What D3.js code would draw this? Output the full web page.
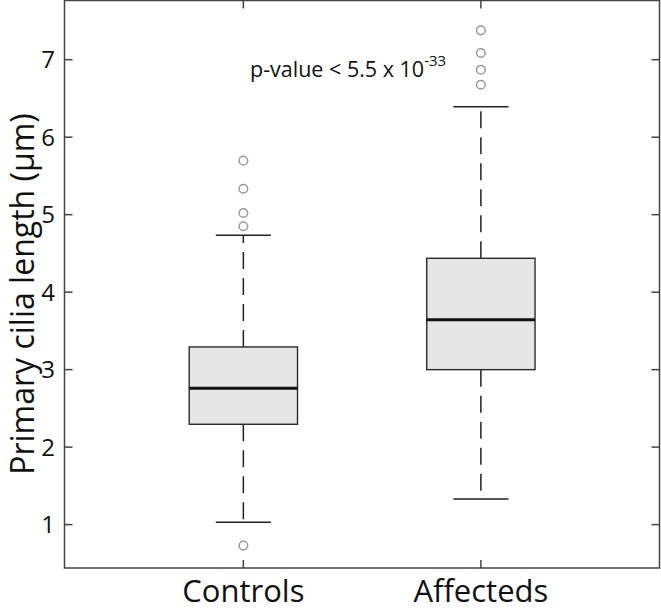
<!DOCTYPE html>
<html><head><meta charset="utf-8">
<script src="https://cdn.jsdelivr.net/npm/d3@7"></script>
<style>body{margin:0;background:#fff}svg{display:block}</style>
</head><body>
<script>
const categories = ["Controls", "Affecteds"];
const q1 = [2.295, 3.0];
const median = [2.76, 3.645];
const q3 = [3.293, 4.437];
const whiskerLow = [1.031, 1.332];
const whiskerHigh = [4.734, 6.394];
const outliers = [[5.697, 5.335, 5.022, 4.85, 0.729], [7.379, 7.086, 6.871, 6.677]];
const yTicks = [1, 2, 3, 4, 5, 6, 7];
const yLabel = "Primary cilia length (μm)";

(function () {
const W = 661, H = 613;
const pLeft = 64.5, pRight = 659.5, pTop = 0.5, pBottom = 568;
const font = "'Open Sans', 'Noto Sans', sans-serif";

const svg = d3.select("body").append("svg").attr("width", W).attr("height", H);
const x = d3.scaleLinear().domain([0.247, 2.752]).range([pLeft, pRight]);
const y = d3.scaleLinear().domain([0.44, 7.764]).range([pBottom, pTop]);
const boxHalf = 0.228, capHalf = 0.116;

const g = svg.append("g");
categories.forEach((c, i) => {
  const cx = x(i + 1);
  g.append("line").attr("x1", cx).attr("x2", cx).attr("y1", y(q3[i])).attr("y2", y(whiskerHigh[i]))
    .attr("stroke", "#222").attr("stroke-width", 1.5).attr("stroke-dasharray", "17,9");
  g.append("line").attr("x1", cx).attr("x2", cx).attr("y1", y(q1[i])).attr("y2", y(whiskerLow[i]))
    .attr("stroke", "#222").attr("stroke-width", 1.5).attr("stroke-dasharray", "17,9");
  [whiskerHigh[i], whiskerLow[i]].forEach(v => {
    g.append("line").attr("x1", x(i + 1 - capHalf)).attr("x2", x(i + 1 + capHalf))
      .attr("y1", y(v)).attr("y2", y(v)).attr("stroke", "#222").attr("stroke-width", 1.5);
  });
  g.append("rect").attr("x", x(i + 1 - boxHalf)).attr("width", x(i + 1 + boxHalf) - x(i + 1 - boxHalf))
    .attr("y", y(q3[i])).attr("height", y(q1[i]) - y(q3[i]))
    .attr("fill", "#e6e6e6").attr("stroke", "#2a2a2a").attr("stroke-width", 1.4);
  g.append("line").attr("x1", x(i + 1 - boxHalf)).attr("x2", x(i + 1 + boxHalf))
    .attr("y1", y(median[i])).attr("y2", y(median[i])).attr("stroke", "#111").attr("stroke-width", 3);
  outliers[i].forEach(v => {
    g.append("circle").attr("cx", cx).attr("cy", y(v)).attr("r", 4.3)
      .attr("fill", "none").attr("stroke", "#9a9a9a").attr("stroke-width", 1.5);
  });
});

svg.append("rect").attr("x", pLeft).attr("y", pTop).attr("width", pRight - pLeft).attr("height", pBottom - pTop)
  .attr("fill", "none").attr("stroke", "#444").attr("stroke-width", 1.5);

const tl = 8;
yTicks.forEach(t => {
  svg.append("line").attr("x1", pLeft).attr("x2", pLeft + tl).attr("y1", y(t)).attr("y2", y(t)).attr("stroke", "#444").attr("stroke-width", 1.5);
  svg.append("line").attr("x1", pRight - tl).attr("x2", pRight).attr("y1", y(t)).attr("y2", y(t)).attr("stroke", "#444").attr("stroke-width", 1.5);
  svg.append("text").attr("x", 55).attr("y", y(t)).attr("dy", "0.36em").attr("text-anchor", "end")
    .attr("font-family", font).attr("font-size", 24).attr("fill", "#111").text(t);
});
categories.forEach((c, i) => {
  const cx = x(i + 1);
  svg.append("line").attr("x1", cx).attr("x2", cx).attr("y1", pBottom).attr("y2", pBottom - tl).attr("stroke", "#444").attr("stroke-width", 1.5);
  svg.append("line").attr("x1", cx).attr("x2", cx).attr("y1", pTop).attr("y2", pTop + tl).attr("stroke", "#444").attr("stroke-width", 1.5);
  svg.append("text").attr("x", cx).attr("y", 602).attr("text-anchor", "middle")
    .attr("font-family", font).attr("font-size", 31).attr("fill", "#111").text(c);
});

svg.append("text").attr("transform", `translate(34,294) rotate(-90)`)
  .attr("text-anchor", "middle").attr("font-family", font).attr("font-size", 32).attr("fill", "#111").text(yLabel);

const ann = svg.append("text").attr("x", 250).attr("y", 77).attr("font-family", font).attr("font-size", 21.5).attr("fill", "#111");
ann.append("tspan").text("p-value < 5.5 x 10");
ann.append("tspan").attr("dy", -11).attr("font-size", 15).text("-33");
})();
</script>
</body></html>
